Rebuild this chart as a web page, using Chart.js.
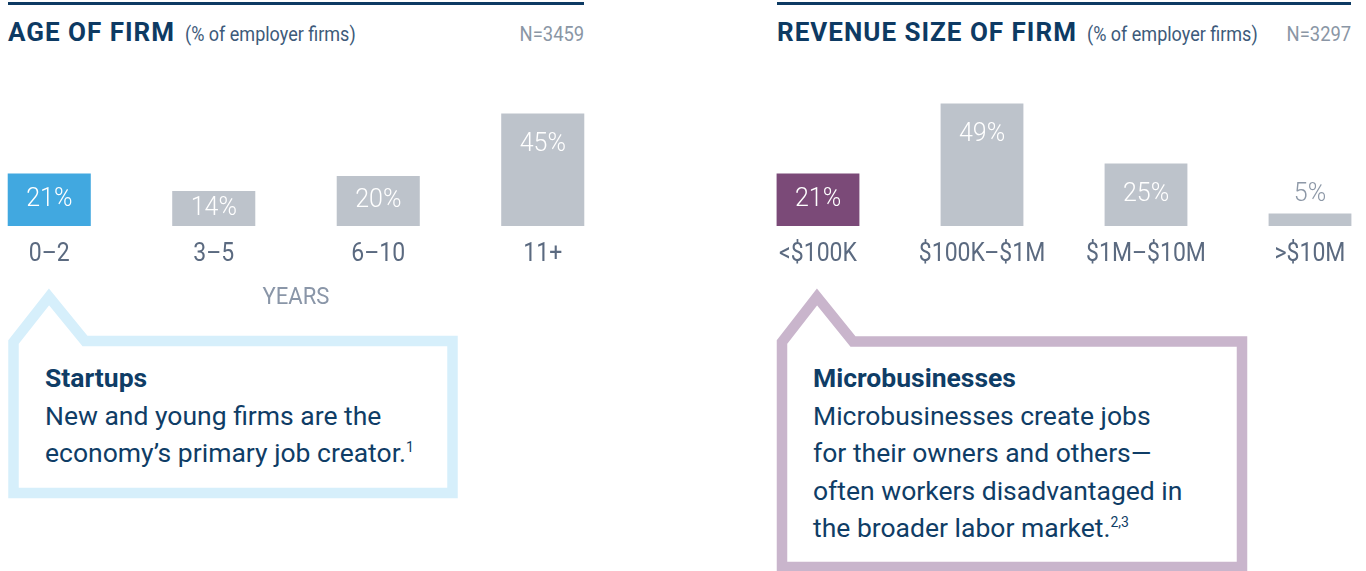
<!DOCTYPE html>
<html>
<head>
<meta charset="utf-8">
<script src="https://cdn.jsdelivr.net/npm/chart.js@4.4.0/dist/chart.umd.min.js"></script>
<style>
  body { margin: 0; width: 1366px; height: 571px; overflow: hidden; position: relative; background: #fff; font-family: Roboto, "Open Sans", sans-serif; }
  .rule { position: absolute; top: 2px; height: 3px; background: #0d3a63; }
  .head { position: absolute; top: 17px; line-height: 30px; font-size: 26px; white-space: nowrap; }
  .title { font-weight: 700; color: #0d3a63; letter-spacing: 1px; }
  .sub { display: inline-block; font-size: 20px; color: #3d5a7a; margin-left: 10px; transform: scaleX(0.9); transform-origin: left; }
  .n { display: inline-block; font-size: 20px; color: #8a96a5; transform: scaleX(0.92); transform-origin: right; }
  canvas { position: absolute; top: 0; }
  .note { position: absolute; top: 359px; font-size: 26.5px; line-height: 37.5px; color: #0f3d66; white-space: nowrap; }
  .note b { font-weight: 700; }
  .note sup { font-size: 14px; vertical-align: 10px; line-height: 0; }
  svg { position: absolute; left: 0; top: 0; }
</style>
</head>
<body>
<div class="rule" style="left:8px; width:576px"></div>
<div class="rule" style="left:777px; width:574px"></div>
<div class="head" style="left:8px"><span class="title">AGE OF FIRM</span><span class="sub">(% of employer firms)</span></div>
<div class="head" style="right:782px"><span class="n">N=3459</span></div>
<div class="head" style="left:777px"><span class="title">REVENUE SIZE OF FIRM</span><span class="sub">(% of employer firms)</span></div>
<div class="head" style="right:15px"><span class="n">N=3297</span></div>

<svg width="1366" height="571">
  <path d="M13.5,493 L13.5,342 L49,297 L85,341 L452.5,341 L452.5,493 Z" fill="none" stroke="#d6effb" stroke-width="10.5"/>
  <path d="M782,567 L782,342 L817,297 L853,341.5 L1242,341.5 L1242,567 Z" fill="none" stroke="#c9b5cc" stroke-width="10.5"/>
</svg>
<div class="note" style="left:45px"><b>Startups</b><br>New and young firms are the<br>economy’s primary job creator.<sup>1</sup></div>
<div class="note" style="left:813px"><b>Microbusinesses</b><br>Microbusinesses create jobs<br>for their owners and others—<br>often workers disadvantaged in<br>the broader labor market.<sup>2,3</sup></div>

<canvas id="ageChart" width="658" height="330" style="left:-33px"></canvas>
<canvas id="revenueChart" width="656" height="330" style="left:736px"></canvas>

<script>
// data
const ageLabels = ['0–2', '3–5', '6–10', '11+'];
const ageValues = [21, 14, 20, 45];
const ageColors = ['#41a8e0', '#bdc3cb', '#bdc3cb', '#bdc3cb'];

const revenueLabels = ['<$100K', '$100K–$1M', '$1M–$10M', '>$10M'];
const revenueValues = [21, 49, 25, 5];
const revenueColors = ['#7b4a78', '#bdc3cb', '#bdc3cb', '#bdc3cb'];

const axisTitle = 'YEARS';

// narrow text (condensed look)
function narrowText(ctx, text, x, y, sx) {
  ctx.save();
  ctx.translate(x, y);
  ctx.scale(sx, 1);
  ctx.fillText(text, 0, 0);
  ctx.restore();
}

// tick labels, value labels and axis title drawn from the bar elements
const barText = {
  id: 'barText',
  afterDatasetsDraw(chart, args, opts) {
    const ctx = chart.ctx;
    const area = chart.chartArea;
    const meta = chart.getDatasetMeta(0);
    const ds = chart.data.datasets[0];
    ctx.save();
    ctx.textAlign = 'center';
    ctx.textBaseline = 'middle';
    meta.data.forEach((bar, i) => {
      const top = bar.y, base = bar.base, h = base - top;
      ctx.font = '300 25px Roboto';
      let ly;
      if (h < 30) {
        ctx.fillStyle = '#8d98a7';
        ly = top - 19;
      } else {
        ctx.fillStyle = '#ffffff';
        ly = Math.min((top + base) / 2, top + 31);
      }
      ctx.fillText(ds.data[i] + '%', bar.x, ly);
      ctx.font = '400 25px Roboto';
      ctx.fillStyle = '#5b6a80';
      narrowText(ctx, chart.data.labels[i], bar.x, area.bottom + 29, 0.92);
    });
    if (opts.title) {
      ctx.font = '400 24px Roboto';
      ctx.fillStyle = '#8a96a8';
      narrowText(ctx, opts.title, (area.left + area.right) / 2, area.bottom + 72, 0.92);
    }
    ctx.restore();
  }
};

function makeChart(id, labels, values, colors, title) {
  return new Chart(document.getElementById(id), {
    type: 'bar',
    data: {
      labels: labels,
      datasets: [{
        data: values,
        backgroundColor: colors,
        borderWidth: 0,
        categoryPercentage: 1,
        barPercentage: 0.505
      }]
    },
    options: {
      responsive: false,
      animation: false,
      events: [],
      layout: { padding: { top: 101, bottom: 104, left: 0, right: 0 } },
      scales: {
        x: { display: false, grid: { display: false } },
        y: { display: false, min: 0, max: 50 }
      },
      plugins: {
        legend: { display: false },
        tooltip: { enabled: false },
        barText: { title: title }
      }
    },
    plugins: [barText]
  });
}

makeChart('ageChart', ageLabels, ageValues, ageColors, axisTitle);
makeChart('revenueChart', revenueLabels, revenueValues, revenueColors, null);
</script>
</body>
</html>
